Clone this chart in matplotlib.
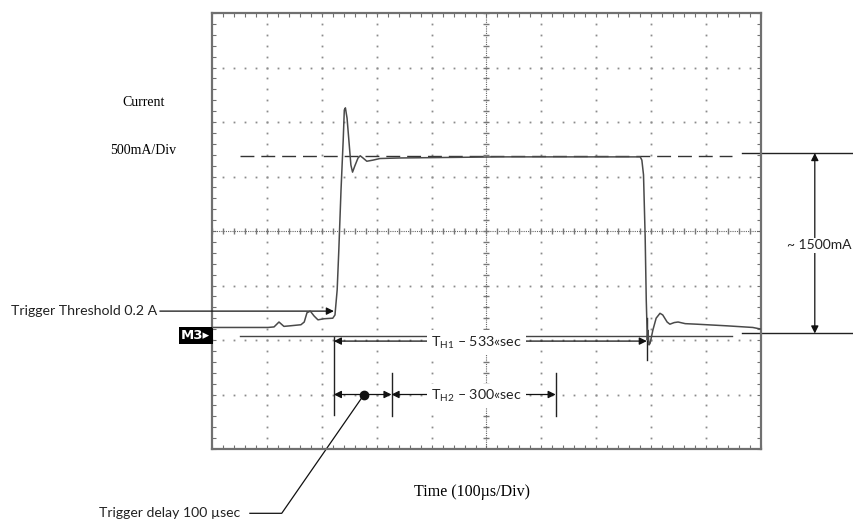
import numpy as np
import matplotlib.pyplot as plt

plt.rcParams['mathtext.fontset'] = 'custom'
plt.rcParams['mathtext.rm'] = 'Lato'

SANS = 'Lato'
SERIF = 'Liberation Serif'

# scope trace, in divisions (x: 100 us/div, y: 500 mA/div, centre = 0)
t_div = [0.00, 1.02, 1.13, 1.22, 1.31, 1.42, 1.62, 1.68, 1.73, 1.79, 1.86, 1.93,
         2.04, 2.20, 2.24, 2.28, 2.31, 2.35, 2.39, 2.41, 2.43, 2.46, 2.50, 2.53,
         2.56, 2.60, 2.66, 2.70, 2.75, 2.82, 2.93, 3.06, 3.42, 4.34, 5.25, 7.07,
         7.80, 7.83, 7.86, 7.89, 7.91, 7.92, 7.93, 7.94, 7.96, 7.98, 8.03, 8.09,
         8.16, 8.21, 8.29, 8.34, 8.42, 8.49, 8.62, 8.83, 9.38, 9.85, 10.00]
i_div = [-1.77, -1.77, -1.76, -1.67, -1.75, -1.74, -1.72, -1.67, -1.50, -1.47, -1.56, -1.63,
         -1.61, -1.60, -1.54, -1.08, -0.35, 0.75, 1.67, 2.22, 2.26, 2.07, 1.58, 1.21,
         1.08, 1.19, 1.34, 1.38, 1.34, 1.28, 1.30, 1.33, 1.34, 1.35, 1.36, 1.36,
         1.36, 1.30, 1.03, -0.11, -1.27, -1.63, -2.00, -1.82, -2.09, -2.06, -1.82, -1.60,
         -1.51, -1.54, -1.67, -1.71, -1.68, -1.67, -1.70, -1.71, -1.74, -1.77, -1.80]

# cursor / marker levels (divisions)
level_top = 1.37        # dashed cursor
level_m3 = -1.92        # channel marker line
ref_top, ref_bot = 1.43, -1.88
span_x = (0.51, 9.48)
ref_x = (9.65, 12.0)
amp_x = 10.98
trig_level = -1.47
t_start, t_end = 2.22, 7.92
t_delay_end, t_h2_end = 3.27, 6.26
th1_y, th2_y = -2.02, -3.00
delay_dot = 2.77

fig = plt.figure(figsize=(8.54, 5.23), dpi=100)
ax = fig.add_axes([212 / 854, 74 / 523, 549 / 854, 436 / 523])
ax.set_xlim(0, 10)
ax.set_ylim(-4, 4)

grid_col = '#8c8c8c'
for s in ax.spines.values():
    s.set_color('#707070')
    s.set_linewidth(1.6)
ax.set_xticks(np.arange(0, 10.01, 0.2))
ax.set_yticks(np.arange(-4, 4.01, 0.2))
ax.tick_params(axis='both', direction='in', length=3, width=0.8, color='#707070',
               top=True, right=True, labelbottom=False, labelleft=False)

# graticule dots
minor = np.arange(-4, 4.01, 0.2)
minor_x = np.arange(0, 10.01, 0.2)
for gx in [1, 2, 3, 4, 6, 7, 8, 9]:
    ax.plot([gx] * len(minor), minor, 's', ms=1.3, mew=0, color=grid_col)
for gy in [-3, -2, -1, 1, 2, 3]:
    ax.plot(minor_x, [gy] * len(minor_x), 's', ms=1.3, mew=0, color=grid_col)
# centre axes with sub-division ticks
ax.plot([0, 10], [0, 0], ls=(0, (1, 1)), lw=0.8, color='#666666')
ax.plot([5, 5], [-4, 4], ls=(0, (1, 1)), lw=0.8, color='#666666')
ax.plot(minor_x, np.zeros(len(minor_x)), '|', ms=4, color='#777777')
ax.plot(np.full(len(minor), 5), minor, '_', ms=4, color='#777777')

# trace
ax.plot(t_div, i_div, color='#4a4a4a', lw=1.1, zorder=5)

# cursors
ax.plot(span_x, [level_top] * 2, color='#333333', lw=1.0, ls=(0, (10, 5)), zorder=4)
ax.plot(span_x, [level_m3] * 2, color='#444444', lw=1.0, zorder=4)
ax.plot(ref_x, [ref_top] * 2, color='#222222', lw=1.0, clip_on=False)
ax.plot(ref_x, [ref_bot] * 2, color='#222222', lw=1.0, clip_on=False)

arw = dict(color='#111111', lw=0.9, shrinkA=0, shrinkB=0, mutation_scale=11)
ax.annotate('', xy=(amp_x, ref_top), xytext=(amp_x, ref_bot),
            arrowprops=dict(arrowstyle='<|-|>', **arw), annotation_clip=False)
ax.text(10.47, -0.26, '~ 1500mA', ha='left', va='center', fontsize=10, family=SANS,
        color='#222222', bbox=dict(fc='white', ec='none', pad=1), clip_on=False)

# trigger threshold
ax.annotate('', xy=(t_start, trig_level), xytext=(-0.95, trig_level),
            arrowprops=dict(arrowstyle='-|>', **arw), annotation_clip=False)
ax.text(-1.0, trig_level, 'Trigger Threshold 0.2 A', ha='right', va='center',
        fontsize=10.2, family=SANS, color='#222222')

# M3 marker
ax.text(-0.03, level_m3, 'M3\u25b8', ha='right', va='center', fontsize=9.5,
        family='DejaVu Sans', color='white', fontweight='bold',
        bbox=dict(fc='black', ec='none', pad=1.6), clip_on=False)

# time markers
ax.plot([t_start, t_start], [-1.94, -3.38], color='#222222', lw=1.0)
ax.plot([t_end, t_end], [-1.60, -2.37], color='#222222', lw=1.0)
ax.plot([t_delay_end, t_delay_end], [-2.60, -3.39], color='#222222', lw=1.0)
ax.plot([t_h2_end, t_h2_end], [-2.60, -3.39], color='#222222', lw=1.0)

ax.annotate('', xy=(t_end, th1_y), xytext=(t_start, th1_y),
            arrowprops=dict(arrowstyle='<|-|>', **arw))
ax.annotate('', xy=(t_delay_end, th2_y), xytext=(t_start, th2_y),
            arrowprops=dict(arrowstyle='<|-|>', **arw))
ax.annotate('', xy=(t_h2_end, th2_y), xytext=(t_delay_end, th2_y),
            arrowprops=dict(arrowstyle='<|-|>', **arw))
ax.plot([delay_dot], [th2_y], 'o', ms=6, color='#111111', zorder=6)

ax.text(3.99, th1_y - 0.1, 'T$_{\\mathrm{H1}}$ \u2013 533\u00absec',
        ha='left', va='baseline', fontsize=10.3, family=SANS, color='#222222', zorder=7,
        bbox=dict(fc='white', ec='none', pad=3))
ax.text(3.99, th2_y - 0.1, 'T$_{\\mathrm{H2}}$ \u2013 300\u00absec',
        ha='left', va='baseline', fontsize=10.3, family=SANS, color='#222222', zorder=7,
        bbox=dict(fc='white', ec='none', pad=3))

# trigger delay leader
ax.plot([delay_dot, 1.27, 0.69], [th2_y, -5.18, -5.18], color='#111111', lw=0.9,
        clip_on=False)
ax.text(0.51, -5.18, 'Trigger delay 100 \u00b5sec', ha='right', va='center',
        fontsize=10.1, family=SANS, color='#222222')

# labels
ax.text(-1.24, 2.35, 'Current', ha='center', va='center', fontsize=10, family=SERIF)
ax.text(-1.26, 1.47, '500mA/Div', ha='center', va='center', fontsize=10, family=SERIF)
ax.text(4.74, -4.78, 'Time (100\u00b5s/Div)', ha='center', va='center', fontsize=11.5,
        family=SERIF)

fig.savefig('out.png', dpi=100)
